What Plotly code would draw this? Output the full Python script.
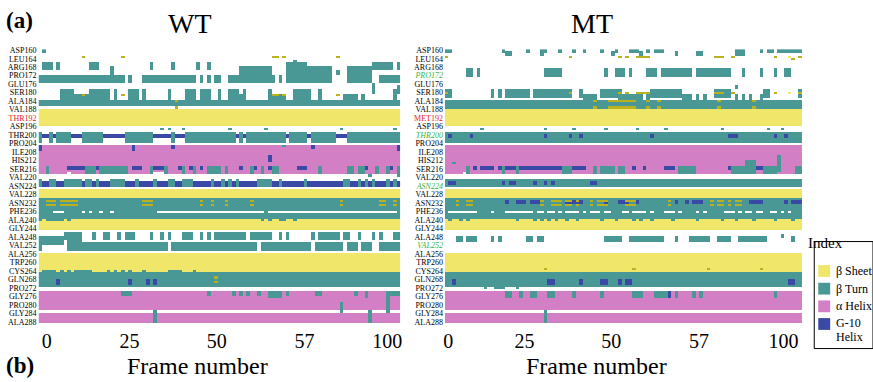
import numpy as np
import plotly.graph_objects as go

# ---------------- data ----------------
residues = list(range(160, 289))
frames = list(range(0, 101))

tick_res = list(range(160, 289, 4))
wt_tick_names = ["ASP160", "LEU164", "ARG168", "PRO172", "GLU176", "SER180", "ALA184", "VAL188",
                 "THR192", "ASP196", "THR200", "PRO204", "ILE208", "HIS212", "SER216", "VAL220",
                 "ASN224", "VAL228", "ASN232", "PHE236", "ALA240", "GLY244", "ALA248", "VAL252",
                 "ALA256", "TRP260", "CYS264", "GLN268", "PRO272", "GLY276", "PRO280", "GLY284", "ALA288"]
mt_tick_names = list(wt_tick_names)
mt_tick_names[8] = "MET192"

# x tick labels as printed in the figure (where they sit along the frame axis)
wt_xtick_vals = [1.8, 24.9, 49.3, 73.8, 96.9]
mt_xtick_vals = [0.4, 22.0, 46.5, 71.3, 95.2]
x_tick_text = ["0", "25", "50", "57", "100"]

# secondary structure codes: E = beta sheet, T = beta turn, H = alpha helix, G = 3-10 helix, B = bridge
codes = {".": 0, "E": 1, "T": 2, "H": 3, "G": 4, "B": 5}

# "CODE residues: frames" (later lines overwrite earlier ones)
wt_blocks = [
    "T 160-161: 1",
    "B 163: 12,23,65-66,68,83",
    "T 165: 71",
    "T 166-169: 1-3,5,14-16,31,37,44,47,69-74,93-98,100",
    "T 168-171: 20,56-64,74-81,86-92",
    "T 170-171: 69-73,83",
    "T 172-175: 0-23,25,29-43,45,47,49-50,53-65,67,69-81,86-92,95-100",
    "T 176-178: 93",
    "T 177-178: 100",
    "T 179-180: 6-9,14-18,19,21,25-27,29,36,41-43,45-46,47,50,53-55,57,64,71-74,75,78,93,99-100",
    "T 181-183: 6-18,19,21,25-27,29,36,41-43,45-46,47,50,53-56,57,64-68,71-74,75,78,85-88,90,99",
    "B 181: 12,23,65-66,68,83",
    "T 184-186: 0-100",
    "B 184: 38",
    "B 187: 38",
    "E 188-195: 0-100",
    "T 197: 34,36,40,53,63,84,99",
    "G 200-201: 0-100",
    "T 199-203: 0,3,5-6,7-8,12-16,17,24-25,26-28,29-31,37,41-44,45-50,51-54,56,58-68,70-74,76-82,86-87,88-100",
    "H 205-217: 0-100",
    "H 218: 0-1,3-7,9-12,16-30,36-46,51-58,60-77,79-85,88-100",
    "G 205-207: 0,26,100",
    "G 205-206: 37,76",
    "G 210-212: 64",
    "T 205: 68",
    "G 215-216: 8-12,14-15,16,26-28,32-35,39,42,45,50,56,60,64,72-74,91,98",
    "T 215-218: 2,13-15,17-23,24,31,35,40,43,47-50,52,59,62,65-66,78,86-87,89-90,94,97,100",
    "T 219: 92,100",
    "G 222-224: 0-100",
    "T 221-224: 0,3-4,7-11,13-14,16,20-23,27,32,36-37,40-42,48,51,53,55,61-64,67,74,85-86,89,91,93,97,99",
    "E 226-229: 0-100",
    "T 230-235: 0-100",
    "B 231: 2-4,6-8,9-10,29-31,45,48,52,59,84,95-96,99",
    "B 233: 2-4,6-8,9-10,29-31,45,48,52,59,84,95-96,99",
    "T 236: 0-3,7-11,13,15-16,18-19,21-32,63,100",
    "T 237-239: 0-100",
    "E 240-244: 0-100",
    "T 240: 0,2-4,5-6,8,62,64,67-68,71",
    "T 246-249: 7-11,15,18-19,22,24-26,31,34,36,40-42,45,47,49-52,53-56,57,59-64,67,69,76,78-81,82-83,85-86,89,93,95,99-100",
    "T 248-251: 0-6",
    "T 250: 8-11",
    "T 251-254: 0,8-35,37-60,62-75,77-84,86-88,90-92,95-100",
    "E 256-264: 0-100",
    "T 265-271: 0-100",
    "T 264: 1-4,6,8,10-14,19,21,23,25,29,36-39,43",
    "G 268-270: 5,25,30,32",
    "B 267: 49",
    "B 269: 49",
    "H 274-282: 0-100",
    "T 274-275: 23-25,47,54,56,58,61,64-67,69,77-78,88,91,97-100",
    "T 276: 64-67,91",
    "T 274-283: 97",
    "T 279-283: 84",
    "H 284-288: 0-100",
    "T 283-288: 32,92",
]

mt_blocks = [
    "T 160-161: 0-1,16,23,27-28,32,36,39,44,48,52-54,57,59-61,82-84,89,91-92,94-98,99-100",
    "T 161-162: 17-18,27,47,55,65,71-72,82-84",
    "B 163: 0,35,49,51,54-57,76-78,81,93,100",
    "E 163: 97",
    "B 164: 98",
    "T 169-172: 6-7,9,28-32,45,48-50,52,57-59,61-69,71-76,77-80,84,89,93,96-97",
    "T 177-178: 82",
    "T 179-182: 0-1,13,15,17-23,25-35,38,44-49,58-60,61-63,64-66,76-80,90-91,100",
    "T 181-183: 39-42,49-55,57,67-69,71,73,82,84,86,89",
    "B 180: 0,35,49,51,54-57,76-78,81,93,100",
    "E 180: 97",
    "T 184-187: 0-100",
    "B 184: 42,46-53,57,60,77,87",
    "B 187: 42,46-53,57,60,77,87",
    "E 188-195: 0-100",
    "T 197: 10,28,36,45,54,62,78,91,95",
    "T 199-203: 0-100",
    "G 200-201: 1,7,28,35,38,58,80-82,93,96",
    "H 205-217: 0-100",
    "H 218: 0-4,7-15,17-19,21-32,36-41,43,48,51-65,71-80,88-89,94-98",
    "T 213: 2",
    "G 215-216: 8,10-13,15-16,17-19,20-32,35-39,45,53,56,62-64,80,84,88-89,92-94",
    "T 215-218: 6,16,20,33-35,42,44-47,49-50,66-70,81-84,90-93,99-100",
    "T 210-217: 94",
    "T 212-218: 85-87",
    "T 221-224: 0-100",
    "G 222-223: 1-2,16,18-19,25,28,30,41-42",
    "E 226-229: 0-100",
    "T 230-235: 0-100",
    "G 231-232: 17,20-22,24-26,34-35,36-37,38,45,49-51,54,65,68,70-72,86-88,89,96,98-100",
    "B 231: 3,6-7,27,30-32,34-35,37,41,43-45,51-53,63,75,77-78,80,82-83",
    "B 233: 3,6-7,27,30-32,34-35,37,41,43-45,51-53,63,75,77-78,80,82-83",
    "T 236: 0,9-12,14-16,25,28,31,33,38,40,44,47-49,52,57,59-61,65,67-70,72,74-78,82,84,87,90-91,94,96,98-100",
    "T 237-239: 0-100",
    "E 240-244: 0-100",
    "T 240: 1,4,6,20,25,27,29,31,34,37,44,48,53,55,58,64,71,78,82,87,93,98",
    "T 248-250: 3-4,6-8,13,15,23-24,26-27,45-49,52-54,55-61,65,69-74,77-79,80,83-90,98",
    "T 247-248: 95",
    "E 256-264: 0-100",
    "B 263: 28,53,74,89",
    "T 265-271: 0-100",
    "G 268-270: 2,29-30,38,44-45,49,51-52,97-98",
    "T 272: 11,14-16,20",
    "H 274-282: 0-100",
    "T 274-276: 17-18,21,24-25,29-30,36,44,53-55,59-62,65,70,72,93",
    "G 274-276: 63",
    "H 284-288: 0-100",
    "T 283-288: 28",
]

legend_names = ["β Sheet", "β Turn", "α Helix", "G-10", "Helix"]

# ---------------- build ----------------
def rng(s):
    s = s.strip()
    if "-" in s:
        a, b = s.split("-")
        return int(a), int(b)
    return int(s), int(s)


def build(blocks):
    grid = np.zeros((len(residues), len(frames)))
    for line in blocks:
        head, fr = line.split(":")
        code, rr = head.split()
        r0, r1 = rng(rr)
        for part in fr.split(","):
            f0, f1 = rng(part)
            grid[r0 - 160:r1 - 160 + 1, f0:f1 + 1] = codes[code]
    return grid


colors = ["#ffffff", "#efe66a", "#4a9896", "#d27fc6", "#3b49a6", "#b9b21e"]
n = len(colors)
cscale = []
for i, c in enumerate(colors):
    cscale.append([i / n, c])
    cscale.append([(i + 1) / n, c])

W, H = 873, 382
fig = go.Figure()

for blocks, xa, ya in [(wt_blocks, "x", "y"), (mt_blocks, "x2", "y2")]:
    fig.add_trace(go.Heatmap(z=build(blocks), x=frames, y=residues, colorscale=cscale,
                             zmin=-0.5, zmax=n - 0.5, showscale=False, xaxis=xa, yaxis=ya,
                             hoverinfo="skip"))

serif = "Liberation Serif, Times New Roman, serif"


def ylabels(names, special):
    return [special.get(nm, nm) for nm in names]


wt_text = ylabels(wt_tick_names, {"THR192": "<span style='color:#e8231f'>THR192</span>"})
green = "#3cb43c"
mt_text = ylabels(mt_tick_names, {
    "MET192": "<span style='color:#e8231f'>MET192</span>",
    "PRO172": f"<i><span style='color:{green}'>PRO172</span></i>",
    "THR200": f"<i><span style='color:{green}'>THR200</span></i>",
    "ASN224": f"<i><span style='color:{green}'>ASN224</span></i>",
    "VAL252": f"<i><span style='color:{green}'>VAL252</span></i>",
})

ydom = [1 - 326 / H, 1 - 47 / H]
xcommon = dict(ticktext=x_tick_text, showgrid=False, zeroline=False,
               ticks="", range=[-0.5, 100.5], tickfont=dict(family=serif, size=20, color="black"),
               showline=False, ticklabelstandoff=4)
ycommon = dict(tickvals=tick_res, showgrid=False, zeroline=False, ticks="",
               range=[288.5, 159.5], tickfont=dict(family=serif, size=8, color="black"),
               showline=False, ticklabelstandoff=1)

fig.update_layout(
    width=W, height=H, margin=dict(l=0, r=0, t=0, b=0),
    plot_bgcolor="white", paper_bgcolor="white", showlegend=False,
    xaxis=dict(domain=[36.7 / W, 400 / W], anchor="y", tickvals=wt_xtick_vals, **xcommon),
    yaxis=dict(domain=ydom, anchor="x", ticktext=wt_text, **ycommon),
    xaxis2=dict(domain=[445 / W, 804 / W], anchor="y2", tickvals=mt_xtick_vals, **xcommon),
    yaxis2=dict(domain=ydom, anchor="x2", ticktext=mt_text, **ycommon),
)


def px(x, y):
    return x / W, 1 - y / H


annots = [
    ("<b>(a)</b>", 18, 18, 23, "center"),
    ("WT", 189, 21, 28, "center"),
    ("MT", 593, 21, 28, "center"),
    ("<b>(b)</b>", 18, 369, 23, "center"),
    ("Frame number", 196, 370, 24, "center"),
    ("Frame number", 597, 370, 24, "center"),
]
for t, x, y, s, al in annots:
    ax, ay = px(x, y)
    fig.add_annotation(text=t, x=ax, y=ay, xref="paper", yref="paper", showarrow=False,
                       font=dict(family=serif, size=s, color="black"), xanchor=al, yanchor="middle")

# legend box (drawn manually)
lx0, ly0, lx1, ly1 = 816, 243, 875, 352
a0, b0 = px(lx0, ly0)
a1, b1 = px(lx1, ly1)
fig.add_shape(type="rect", xref="paper", yref="paper", x0=a0, y0=b1, x1=a1, y1=b0,
              line=dict(color="black", width=1), fillcolor="white", layer="above")
tx, ty = px(847, 255)
fig.add_annotation(text="Index", x=tx, y=ty, xref="paper", yref="paper", showarrow=False,
                   font=dict(family=serif, size=15, color="black"))
sq_y = [273, 291, 309, 327]
for c, yy in zip(colors[1:5], sq_y):
    s0 = px(820, yy - 6)
    s1 = px(832, yy + 6)
    fig.add_shape(type="rect", xref="paper", yref="paper", x0=s0[0], y0=s1[1], x1=s1[0], y1=s0[1],
                  line=dict(width=0), fillcolor=c, layer="above")
txt_y = [273, 291, 309, 326, 340]
for nm, yy in zip(legend_names, txt_y):
    ax, ay = px(836, yy)
    fig.add_annotation(text=nm, x=ax, y=ay, xref="paper", yref="paper", showarrow=False,
                       xanchor="left", yanchor="middle", align="left",
                       font=dict(family=serif, size=12, color="black"))

fig.write_html("out.html", config={"displayModeBar": False},
               post_script="document.body.style.margin='0';")
